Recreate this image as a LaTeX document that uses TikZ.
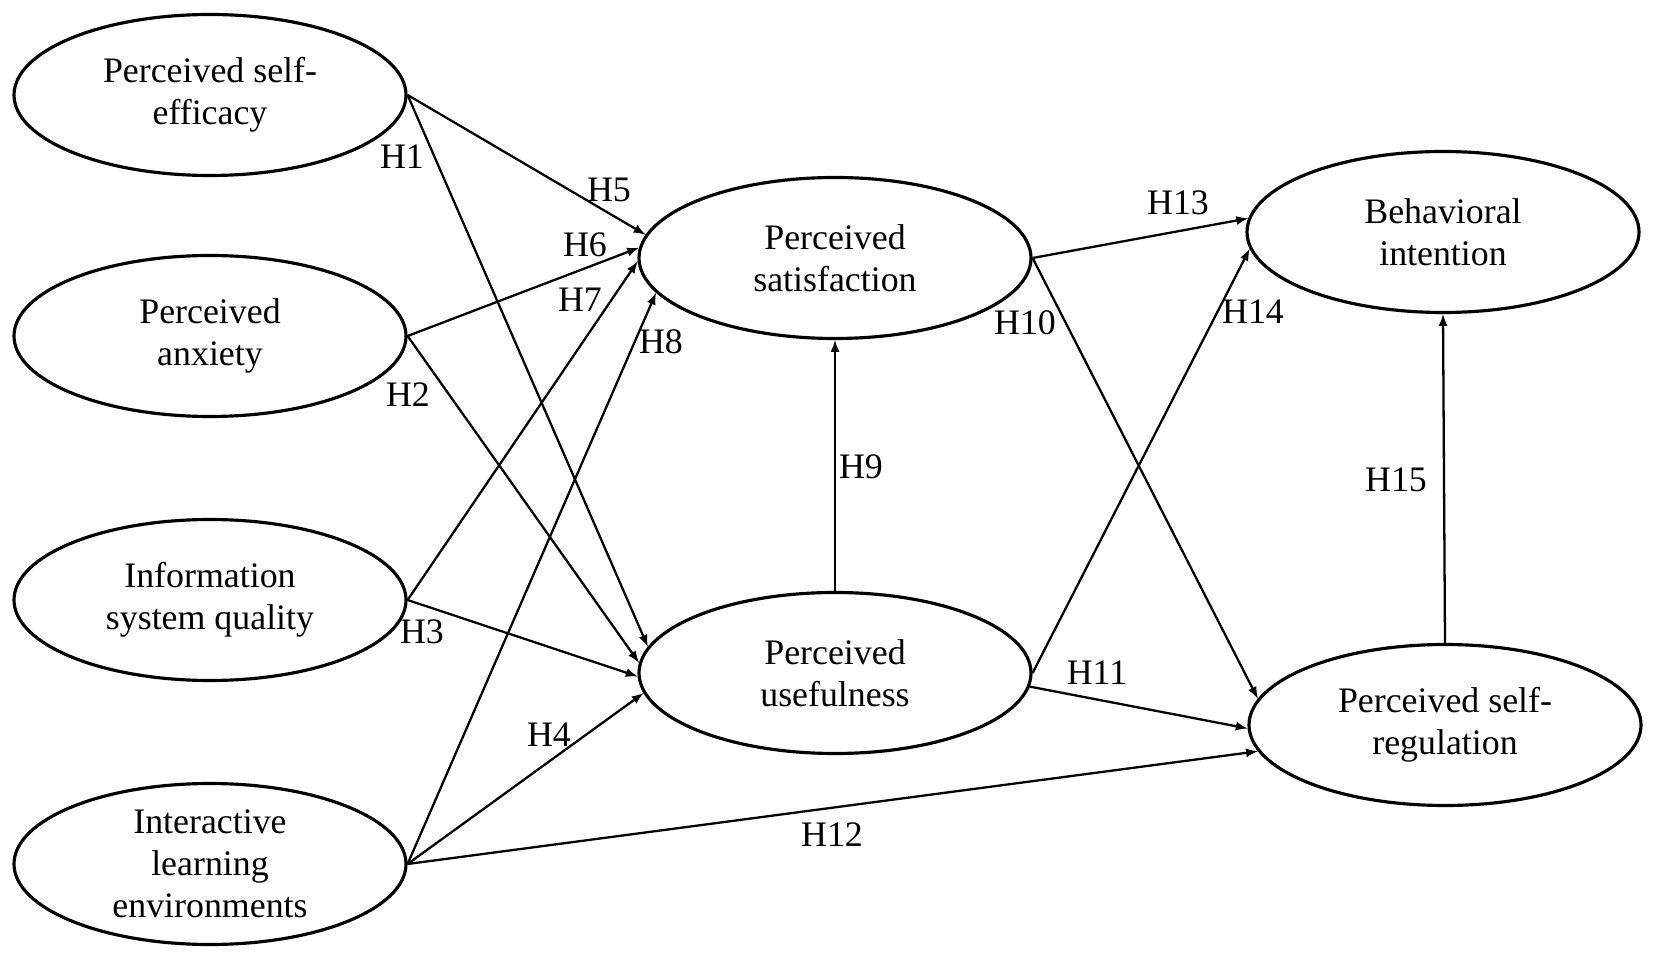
\documentclass[tikz,border=0pt]{standalone}
\usepackage{fontspec}
\setmainfont{Liberation Serif}
\usepackage{tikz}
\usetikzlibrary{shapes,arrows,positioning}
\tikzstyle{construct} = [draw, ellipse, line width=1.8pt, minimum width=7.84cm, minimum height=3.22cm, inner sep=0pt, align=center, font=\fontsize{20.4}{23.9}\selectfont]
\tikzstyle{hyp} = [inner sep=0pt, font=\fontsize{20.4}{23.9}\selectfont]
\tikzstyle{link} = [->, line width=1.3pt]

\begin{document}
\begin{tikzpicture}[auto,>=latex]
    \useasboundingbox (0,0) rectangle (33.08,19.16);
    \node [construct] (PSE) at (4.2,17.26) {Perceived self-\\efficacy};
    \node [construct] (PA) at (4.2,12.44) {Perceived\\anxiety};
    \node [construct] (ISQ) at (4.2,7.16) {Information\\system quality};
    \node [construct] (ILE) at (4.2,1.88) {Interactive\\learning\\environments};
    \node [construct] (PS) at (16.7,14.0) {Perceived\\satisfaction};
    \node [construct] (PU) at (16.7,5.7) {Perceived\\usefulness};
    \node [construct] (BI) at (28.86,14.52) {Behavioral\\intention};
    \node [construct] (PSR) at (28.9,4.66) {Perceived self-\\regulation};

    \draw [link] (PSE.east) -- (PU.172);
    \draw [link] (PA.east) -- (PU.177);
    \draw [link] (ISQ.east) -- (PU.181);
    \draw [link] (ILE.east) -- (PU.186);
    \draw [link] (PSE.east) -- (PS.173);
    \draw [link] (PA.east) -- (PS.177);
    \draw [link] (ISQ.east) -- (PS.181);
    \draw [link] (ILE.east) -- (PS.191);
    \draw [link] (PU.north) -- (PS.south);
    \draw [link] (PS.east) -- (PSR.172);
    \draw [link] (PU.-4) -- (PSR.181);
    \draw [link] (ILE.east) -- (PSR.188);
    \draw [link] (PS.east) -- (BI.176);
    \draw [link] (PU.east) -- (BI.185);
    \draw [link] (PSR.north) -- (BI.south);

    \node [hyp] (h1) at (8.04,16.02) {H1};
    \node [hyp] (h2) at (8.16,11.26) {H2};
    \node [hyp] (h3) at (8.44,6.52) {H3};
    \node [hyp] (h4) at (10.98,4.46) {H4};
    \node [hyp] (h5) at (12.18,15.36) {H5};
    \node [hyp] (h6) at (11.7,14.26) {H6};
    \node [hyp] (h7) at (11.6,13.16) {H7};
    \node [hyp] (h8) at (13.22,12.32) {H8};
    \node [hyp] (h9) at (17.22,9.82) {H9};
    \node [hyp] (h10) at (20.5,12.7) {H10};
    \node [hyp] (h11) at (21.94,5.7) {H11};
    \node [hyp] (h12) at (16.64,2.46) {H12};
    \node [hyp] (h13) at (23.56,15.1) {H13};
    \node [hyp] (h14) at (25.06,12.92) {H14};
    \node [hyp] (h15) at (27.92,9.56) {H15};
\end{tikzpicture}
\end{document}
